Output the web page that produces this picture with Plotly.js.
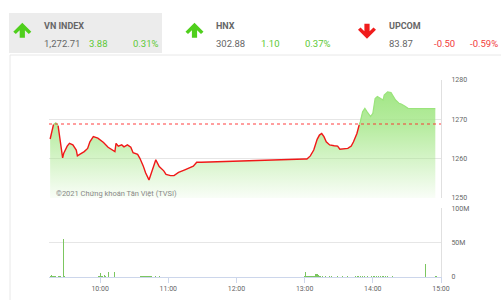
<!DOCTYPE html>
<html>
<head>
<meta charset="utf-8">
<script src="https://cdn.plot.ly/plotly-3.0.1.min.js"></script>
<style>
html,body{margin:0;padding:0;background:#fff;}
#chart{width:501px;height:300px;}
</style>
</head>
<body>
<div id="chart"></div>
<script>
// ---------- DATA ----------
const tradeDate = '2021-12-01';
const refValue = 1268.83;

const priceTimes = ['09:16','09:19','09:21','09:23','09:27','09:28','09:31','09:33','09:36','09:39',
  '09:40','09:42','09:46','09:49','09:51','09:54','09:58','10:03','10:07','10:13',
  '10:14','10:16','10:19','10:21','10:24','10:27','10:29','10:33','10:35','10:38',
  '10:40','10:43','10:46','10:48','10:49','10:52','10:56','10:58','11:02','11:05',
  '11:09','11:14','11:18','11:22','11:25','11:29',
  '13:00','13:02','13:05','13:08','13:11','13:13','13:15','13:17','13:19','13:22',
  '13:26','13:29','13:31','13:35','13:38','13:41','13:43','13:46','13:48','13:49',
  '13:51','13:53','13:55','13:58','14:00','14:02','14:04','14:07','14:09','14:10',
  '14:13','14:16','14:18','14:20','14:23','14:25','14:28','14:31','14:55'];
const priceValues = [1265.0,1268.7,1269.1,1268.4,1260.2,1261.4,1263.2,1263.9,1263.5,1262.2,
  1260.7,1261.1,1261.8,1262.6,1264.3,1265.6,1265.2,1264.1,1262.9,1261.8,
  1263.9,1263.2,1263.5,1263.0,1263.5,1262.9,1261.5,1261.1,1260.1,1258.1,
  1256.4,1254.6,1257.1,1259.2,1259.7,1258.0,1256.9,1256.0,1255.7,1255.7,
  1256.5,1257.1,1257.5,1258.1,1259.1,1259.1,
  1259.9,1259.9,1260.7,1262.2,1264.9,1266.0,1266.4,1265.6,1264.3,1263.5,
  1263.3,1263.2,1262.4,1262.5,1262.6,1263.2,1264.3,1266.4,1268.6,1269.4,
  1271.9,1272.8,1271.9,1270.7,1271.5,1275.3,1275.8,1275.3,1274.9,1276.2,
  1277.0,1276.8,1275.9,1274.9,1274.1,1273.9,1273.4,1272.8,1272.71];

const volumeTimes = ['09:16','09:17','09:18','09:19','09:20','09:21','09:22','09:23','09:24','09:25',
  '09:26','09:28','09:29','09:30','09:31','09:39','09:40','09:42','09:43','09:49',
  '09:51','09:53','09:59','10:00','10:01','10:02','10:04','10:05','10:07','10:09',
  '10:11','10:13','10:17','10:19','10:26','10:28','10:30','10:36','10:37','10:38',
  '10:39','10:40','10:41','10:42','10:43','10:44','10:45','10:47','10:49','10:50',
  '10:52','10:54','10:56','10:58','11:06','11:15','11:17','11:19','11:21','11:24','11:26',
  '13:00','13:01','13:02','13:03','13:04','13:05','13:06','13:07','13:08','13:09',
  '13:10','13:11','13:12','13:13','13:14','13:16','13:18','13:20','13:22','13:24',
  '13:27','13:29','13:31','13:33','13:36','13:38','13:40','13:43','13:45','13:47',
  '13:49','13:51','13:53','13:55','13:57','13:59','14:01','14:03','14:05','14:07',
  '14:09','14:11','14:13','14:15','14:17','14:19','14:22','14:25','14:28','14:46','14:55','14:56'];
const volumeValues = [0.9,3.0,0.8,1.2,0.9,1.8,0.7,1.5,0.8,0.9,
  0.7,55,0.8,0.6,0.7,0.6,0.7,0.6,0.5,0.6,
  0.7,0.6,1.2,6.0,2.0,1.0,3.0,0.8,7.0,0.6,
  0.7,7.0,0.6,0.5,0.6,0.7,0.6,0.8,0.9,1.5,
  0.8,1.0,0.9,0.8,1.1,0.9,0.8,0.7,0.9,0.7,
  0.8,0.6,0.7,0.6,0.5,0.6,0.7,0.5,0.6,0.7,0.5,
  0.9,7.0,1.0,1.2,0.9,1.5,1.2,1.8,2.0,1.5,
  4.5,5.0,2.5,1.2,1.0,0.8,0.9,0.7,1.2,0.8,
  0.7,0.8,0.6,2.0,0.7,0.8,0.6,0.7,0.9,0.8,
  1.1,0.9,1.0,0.8,0.7,0.9,1.2,0.8,1.0,0.9,
  0.8,1.0,0.8,0.7,0.8,0.6,0.7,0.6,0.5,19,0.8,1.5];

const volTickVals = [0, 50, 100];
const volTickText = ['0', '50M', '100M'];

const headerNames = ['VN INDEX', 'HNX', 'UPCOM'];
const headerValues = ['1,272.71', '302.88', '83.87'];
const headerChanges = ['3.88', '1.10', '-0.50'];
const headerPercents = ['0.31%', '0.37%', '-0.59%'];
const headerUp = [true, true, false];

const watermark = '©2021 Chứng khoán Tân Việt (TVSI)';

// ---------- BUILD ----------
const W = 501, H = 300;
const M = {l: 49, r: 60, t: 80, b: 23};
const PW = W - M.l - M.r, PH = H - M.t - M.b;
const px = x => (x - M.l) / PW;
const py = y => (H - M.b - y) / PH;

const t = s => tradeDate + ' ' + s;
const xs = priceTimes.map(t);

// split line into below-reference (red) and above-reference (green) parts
const redY = priceValues.map(v => v <= refValue ? v : null);
const greenY = priceValues.map((v, i) => {
  const above = v > refValue;
  const prevAbove = i > 0 && priceValues[i - 1] > refValue;
  const nextAbove = i < priceValues.length - 1 && priceValues[i + 1] > refValue;
  return (above || prevAbove || nextAbove) ? v : null;
});

const GREEN_TXT = '#5cc935';
const RED_TXT = '#f23b3b';
const FONT = 'Roboto, "Open Sans", sans-serif';

const traces = [
  {
    x: xs, y: priceValues, type: 'scatter', mode: 'lines',
    line: {width: 0, color: 'rgba(0,0,0,0)'},
    fill: 'tozeroy',
    fillgradient: {type: 'vertical', start: 1250, stop: 1280,
      colorscale: [[0, 'rgba(160,230,130,0.06)'], [0.6, 'rgba(160,230,130,0.75)'], [1, 'rgba(155,228,125,1)']]},
    hoverinfo: 'skip', xaxis: 'x', yaxis: 'y', showlegend: false
  },
  {
    x: xs, y: redY, type: 'scatter', mode: 'lines', connectgaps: false,
    line: {width: 1.4, color: '#f01818'},
    xaxis: 'x', yaxis: 'y', showlegend: false
  },
  {
    x: xs, y: greenY, type: 'scatter', mode: 'lines', connectgaps: false,
    line: {width: 1.2, color: '#9be47c'},
    xaxis: 'x', yaxis: 'y', showlegend: false
  },
  {
    x: volumeTimes.map(t), y: volumeValues, type: 'bar',
    width: 60000,
    marker: {color: '#7cc660', line: {width: 0}},
    xaxis: 'x', yaxis: 'y2', showlegend: false
  }
];

const shapes = [];
const annotations = [];

// page chrome
shapes.push({type: 'rect', xref: 'paper', yref: 'paper', x0: px(9), x1: px(162), y0: py(53), y1: py(13),
  fillcolor: '#ececec', line: {width: 0}, layer: 'below'});
shapes.push({type: 'line', xref: 'paper', yref: 'paper', x0: px(10), x1: px(501), y0: py(55), y1: py(55),
  line: {color: '#e8e8e8', width: 1}});
shapes.push({type: 'line', xref: 'paper', yref: 'paper', x0: px(10), x1: px(10), y0: py(55), y1: py(300),
  line: {color: '#e8e8e8', width: 1}});

// reference line
shapes.push({type: 'line', xref: 'paper', yref: 'y', x0: 0, x1: 1, y0: refValue, y1: refValue,
  line: {color: 'rgba(255,40,40,0.9)', width: 1.1, dash: 'dot'}});

// header blocks
const arrowX = [22.3, 194.5, 367];
const nameX = [42.3, 214.3, 386.7];
const chgX = [86.7, 259.3, 431.7];
const pctX = [131, 303.3, 475.7];

function arrowPath(cx, up) {
  const ty = up ? 22.7 : 38.8;
  const s = up ? 1 : -1;
  const pts = [
    [cx, ty], [cx + 9, ty + s * 9], [cx + 6.5, ty + s * 11.3], [cx + 2.6, ty + s * 7.6],
    [cx + 2.6, ty + s * 15], [cx - 2.6, ty + s * 15], [cx - 2.6, ty + s * 7.6],
    [cx - 6.5, ty + s * 11.3], [cx - 9, ty + s * 9]
  ];
  return 'M' + pts.map(p => px(p[0]).toFixed(5) + ',' + py(p[1]).toFixed(5)).join(' L') + ' Z';
}

headerNames.forEach((name, i) => {
  const col = headerUp[i] ? GREEN_TXT : RED_TXT;
  const last = i === headerNames.length - 1;
  shapes.push({type: 'path', xref: 'paper', yref: 'paper', path: arrowPath(arrowX[i], headerUp[i]),
    fillcolor: headerUp[i] ? '#4fcf1c' : '#f01c1c', line: {width: 0}});
  annotations.push({xref: 'paper', yref: 'paper', x: px(nameX[i]), y: py(25.5), xanchor: 'left', yanchor: 'middle',
    text: '<b>' + name + '</b>', showarrow: false, font: {family: FONT, size: 9, color: '#666'}});
  annotations.push({xref: 'paper', yref: 'paper', x: px(nameX[i]), y: py(43.5), xanchor: 'left', yanchor: 'middle',
    text: headerValues[i], showarrow: false, font: {family: FONT, size: 9.5, color: '#666'}});
  annotations.push({xref: 'paper', yref: 'paper', x: px(chgX[i]), y: py(43.5), xanchor: 'left', yanchor: 'middle',
    text: headerChanges[i], showarrow: false, font: {family: FONT, size: 9.5, color: col}});
  annotations.push({xref: 'paper', yref: 'paper', x: last ? px(500.5) : px(pctX[i]), y: py(43.5),
    xanchor: last ? 'right' : 'left', yanchor: 'middle',
    text: headerPercents[i], showarrow: false, font: {family: FONT, size: 9.5, color: col}});
});

annotations.push({xref: 'paper', yref: 'paper', x: px(54), y: py(193.3), xanchor: 'left', yanchor: 'middle',
  text: watermark, showarrow: false, font: {family: FONT, size: 7.5, color: '#888'}});

const layout = {
  width: W, height: H,
  margin: M,
  paper_bgcolor: '#fff', plot_bgcolor: 'rgba(0,0,0,0)',
  font: {family: FONT, size: 7, color: '#666'},
  showlegend: false,
  bargap: 0,
  xaxis: {
    type: 'date', anchor: 'y2',
    range: [t('09:15'), t('15:00')],
    tick0: t('10:00'), dtick: 3600000, tickformat: '%H:%M',
    ticks: 'outside', ticklen: 5, tickcolor: '#ccd6eb', tickwidth: 1,
    showgrid: false, showline: true, linecolor: '#ccd6eb', linewidth: 1,
    zeroline: false,
    tickfont: {family: FONT, size: 7, color: '#666'}
  },
  yaxis: {
    domain: [0.401, 1], anchor: 'x', side: 'right',
    range: [1250, 1280], dtick: 10, tick0: 1250,
    showgrid: true, gridcolor: '#e6e6e6', gridwidth: 1,
    showline: true, linecolor: '#e0e0e0', linewidth: 1,
    zeroline: false, ticks: '', ticklabelstandoff: 8,
    tickfont: {family: FONT, size: 7, color: '#666'}
  },
  yaxis2: {
    domain: [0, 0.35], anchor: 'x', side: 'right',
    range: [0, 100], tickvals: volTickVals, ticktext: volTickText,
    showgrid: true, gridcolor: '#e6e6e6', gridwidth: 1,
    showline: true, linecolor: '#e0e0e0', linewidth: 1,
    zeroline: false, ticks: '', ticklabelstandoff: 8,
    tickfont: {family: FONT, size: 7, color: '#666'}
  },
  shapes: shapes,
  annotations: annotations
};

Plotly.newPlot('chart', traces, layout, {displayModeBar: false, staticPlot: true});
</script>
</body>
</html>
